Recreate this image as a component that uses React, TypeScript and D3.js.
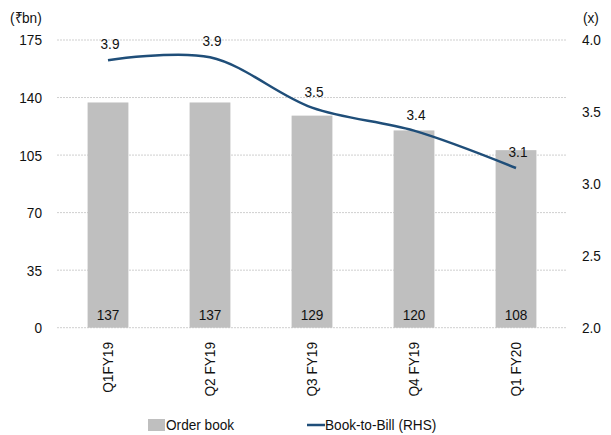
import React from "react";
import * as d3 from "d3";

const categories = ["Q1FY19", "Q2 FY19", "Q3 FY19", "Q4 FY19", "Q1 FY20"];
const orderBook = [137, 137, 129, 120, 108];
const bookToBill = [3.86, 3.88, 3.53, 3.37, 3.11];
const leftTicks = [0, 35, 70, 105, 140, 175];
const rightTicks = [2.0, 2.5, 3.0, 3.5, 4.0];

const W = 611;
const H = 435;
const M = { left: 57, right: 44, top: 40, bottom: 108 };
const FONT = "'Liberation Sans', Arial, sans-serif";
const FS = 15.5;
const SX = 0.88;

type TProps = {
  x: number;
  y: number;
  anchor?: "start" | "middle" | "end";
  rotate?: number;
  dy?: string;
  children: React.ReactNode;
};

// Condensed label: horizontal squeeze applied around the anchor point
function T({ x, y, anchor = "start", rotate = 0, dy = "0", children }: TProps) {
  return (
    <text
      transform={`translate(${x},${y}) rotate(${rotate}) scale(${SX},1)`}
      textAnchor={anchor}
      dy={dy}
      fontSize={FS}
      fill="#111"
    >
      {children}
    </text>
  );
}

export default function App() {
  const x = d3
    .scaleBand<string>()
    .domain(categories)
    .range([M.left, W - M.right])
    .paddingInner(0.6)
    .paddingOuter(0.3);
  const yL = d3.scaleLinear().domain([0, 175]).range([H - M.bottom + 0.7, M.top]);
  const yR = d3.scaleLinear().domain([2, 4]).range([H - M.bottom + 0.7, M.top]);

  const cx = (c: string) => (x(c) ?? 0) + x.bandwidth() / 2;

  const line = d3
    .line<number>()
    .x((_, i) => cx(categories[i]))
    .y((d) => yR(d))
    .curve(d3.curveCatmullRom.alpha(0.5));

  return (
    <svg
      width={W}
      height={H}
      style={{ position: "absolute", left: 0, top: 0, background: "#fff" }}
      fontFamily={FONT}
    >
      {/* gridlines */}
      {leftTicks.map((t) => (
        <line
          key={"g" + t}
          x1={M.left}
          x2={W - M.right}
          y1={yL(t)}
          y2={yL(t)}
          stroke="#cfcfcf"
          strokeWidth={1}
          strokeDasharray="2,1"
        />
      ))}

      {/* left axis */}
      {leftTicks.map((t) => (
        <T key={"l" + t} x={42} y={yL(t)} dy="0.35em" anchor="end">
          {t}
        </T>
      ))}
      <T x={10} y={18} dy="0.35em">
        (₹bn)
      </T>

      {/* right axis */}
      {rightTicks.map((t) => (
        <T key={"r" + t} x={582} y={yR(t)} dy="0.35em">
          {t.toFixed(1)}
        </T>
      ))}
      <T x={583} y={18} dy="0.35em">
        (x)
      </T>

      {/* bars */}
      {orderBook.map((v, i) => (
        <rect
          key={"b" + i}
          x={x(categories[i])}
          y={yL(v)}
          width={x.bandwidth()}
          height={yL(0) - yL(v)}
          fill="#bfbfbf"
        />
      ))}
      {orderBook.map((v, i) => (
        <T key={"bl" + i} x={cx(categories[i])} y={320} anchor="middle">
          {v}
        </T>
      ))}

      {/* book-to-bill line */}
      <path d={line(bookToBill) ?? ""} fill="none" stroke="#1f4e79" strokeWidth={2.5} />
      {bookToBill.map((v, i) => (
        <T key={"ll" + i} x={cx(categories[i]) + 2} y={yR(v) - 11} anchor="middle">
          {v.toFixed(1)}
        </T>
      ))}

      {/* category labels */}
      {categories.map((c) => (
        <T key={"c" + c} x={cx(c)} y={342} rotate={-90} anchor="end" dy="0.35em">
          {c}
        </T>
      ))}

      {/* legend */}
      <rect x={148} y={419} width={17} height={12} fill="#bfbfbf" />
      <T x={166} y={425} dy="0.35em">
        Order book
      </T>
      <line x1={307} x2={325} y1={425} y2={425} stroke="#1f4e79" strokeWidth={2.5} />
      <T x={325} y={425} dy="0.35em">
        Book-to-Bill (RHS)
      </T>
    </svg>
  );
}
